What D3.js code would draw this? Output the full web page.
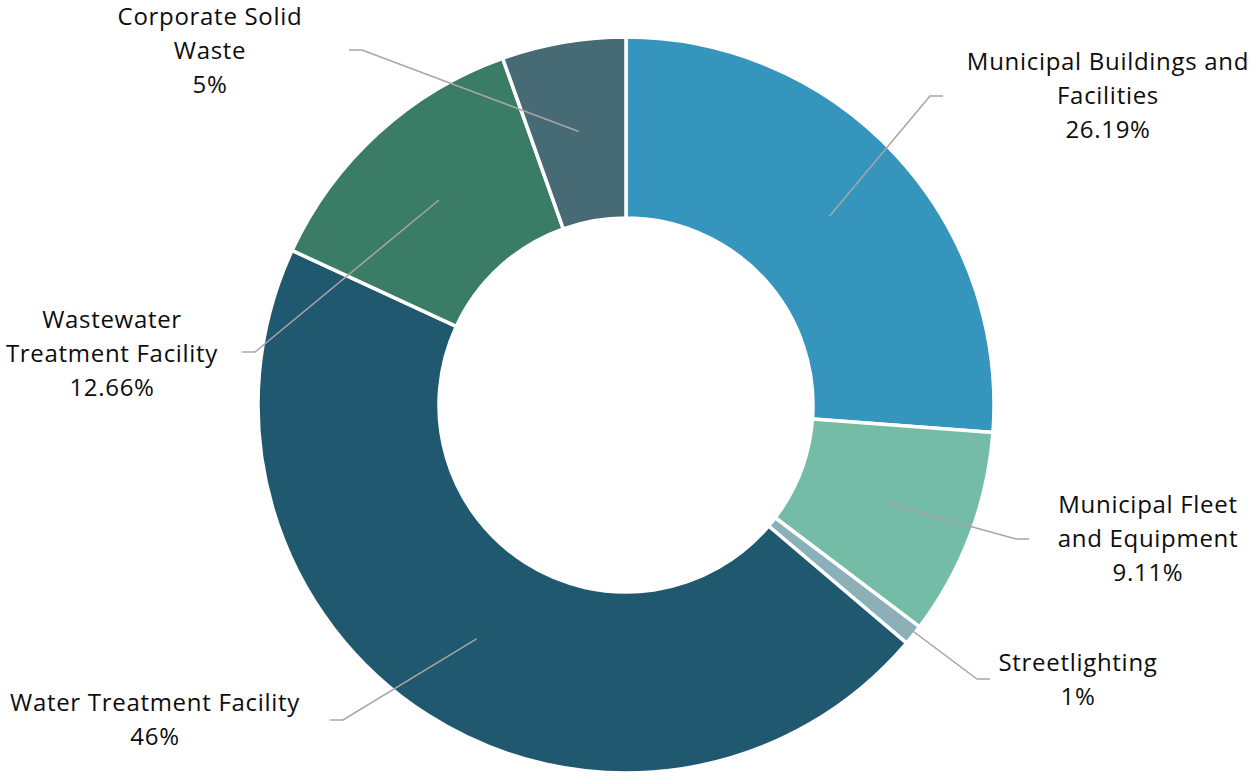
<!DOCTYPE html>
<html>
<head>
<meta charset="utf-8">
<script src="https://cdn.jsdelivr.net/npm/d3@7"></script>
<style>
  body { margin: 0; background: #fff; }
  svg { display: block; }
  text { font-family: "Open Sans", sans-serif; font-size: 24px; letter-spacing: 0.7px; fill: #0d0d0d; }
</style>
</head>
<body>
<svg width="1254" height="776"></svg>
<script>
'use strict'

const categories = ['Municipal Buildings and Facilities', 'Municipal Fleet and Equipment', 'Streetlighting',
  'Water Treatment Facility', 'Wastewater Treatment Facility', 'Corporate Solid Waste']
// shares; the printed labels are rounded
const values = [26.19, 9.11, 0.9, 45.7, 12.66, 5.44]
const valueLabels = ['26.19%', '9.11%', '1%', '46%', '12.66%', '5%']
const colors = ['#3595bc', '#74bca6', '#8ab0ba', '#20586f', '#3b7c67', '#466b75']

// label layout: wrapped lines, text centre, elbow of leader line, side of horizontal tail
const labelLines = [
  ['Municipal Buildings and', 'Facilities'],
  ['Municipal Fleet', 'and Equipment'],
  ['Streetlighting'],
  ['Water Treatment Facility'],
  ['Wastewater', 'Treatment Facility'],
  ['Corporate Solid', 'Waste']
]
const labelPos = [[1108, 62], [1148, 505], [1078, 663], [155, 703], [112, 320], [210, 17]]
const elbows = [[930, 96], [1016, 539], [977, 679], [343, 720], [255, 352], [362, 50]]
const tailDir = [1, 1, 1, -1, -1, -1]

const cx = 626, cy = 405, outerR = 368, innerR = 187
const svg = d3.select('svg')
const g = svg.append('g').attr('transform', `translate(${cx},${cy})`)

const pie = d3.pie().sort(null).value((d) => d)
const arcs = pie(values)
const arc = d3.arc().innerRadius(innerR).outerRadius(outerR)
const mid = d3.arc().innerRadius((innerR + outerR) / 2).outerRadius((innerR + outerR) / 2)

g.selectAll('path.slice').data(arcs)
  .enter()
  .append('path')
  .classed('slice', true)
  .attr('d', arc)
  .style('fill', (d, i) => colors[i])
  .style('stroke', '#fff')
  .style('stroke-width', 3.5)
  .style('stroke-linejoin', 'bevel')

// leader lines
svg.selectAll('polyline.leader').data(arcs)
  .enter()
  .append('polyline')
  .classed('leader', true)
  .attr('points', (d, i) => {
    const c = mid.centroid(d)
    const e = elbows[i]
    return [[c[0] + cx, c[1] + cy], e, [e[0] + 13 * tailDir[i], e[1]]].join(' ')
  })
  .style('fill', 'none')
  .style('stroke', '#a6a6a6')
  .style('stroke-width', 1.5)

const labels = svg.selectAll('text.label').data(arcs)
  .enter()
  .append('text')
  .classed('label', true)
  .attr('text-anchor', 'middle')
  .attr('x', (d, i) => labelPos[i][0])
  .attr('y', (d, i) => labelPos[i][1])

labels.each(function(d, i) {
  const t = d3.select(this)
  labelLines[i].concat([valueLabels[i]]).forEach((line, j) => {
    t.append('tspan')
      .attr('x', labelPos[i][0])
      .attr('dy', j === 0 ? '0.35em' : 34)
      .text(line)
  })
})
</script>
</body>
</html>
